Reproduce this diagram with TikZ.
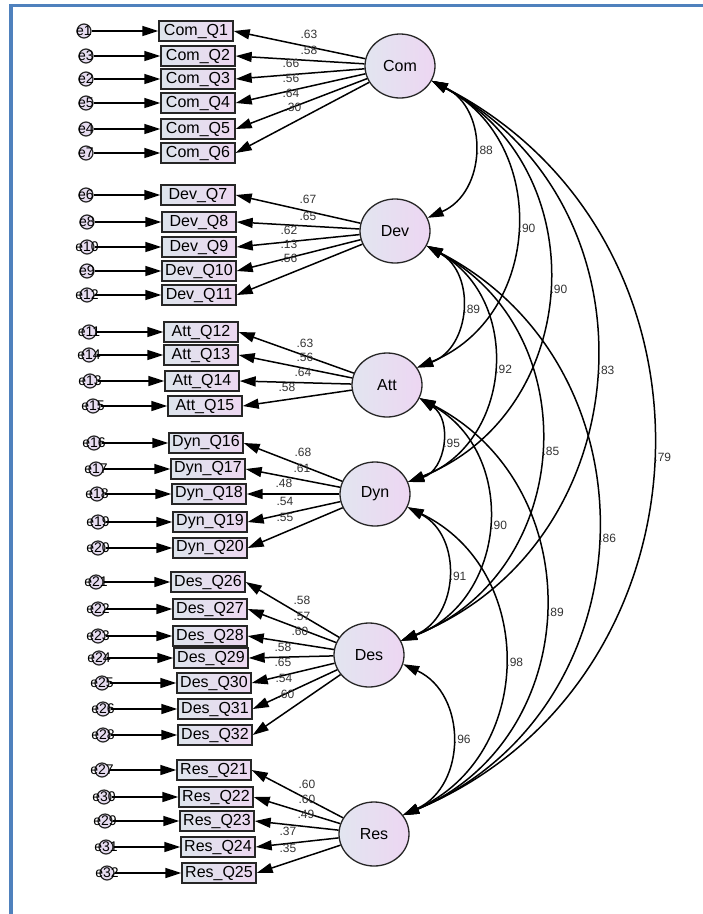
\documentclass[tikz,border=0pt]{standalone}
\usepackage{fontspec}
\setmainfont{Liberation Sans}
\usetikzlibrary{arrows.meta,shapes.geometric}
\definecolor{framebar}{HTML}{4F81BD}
\definecolor{obsleft}{HTML}{DDE4EC}
\definecolor{obsright}{HTML}{EDD8F1}
\definecolor{latleft}{HTML}{E2E5F0}
\definecolor{latright}{HTML}{EDD6F2}
\definecolor{errfill}{HTML}{E6DCF0}
\definecolor{labelgray}{HTML}{333333}
\tikzset{
  obsbox/.style={draw=black!85,line width=1.4pt,left color=obsleft,right color=obsright,minimum width=74pt,minimum height=20pt,inner sep=1pt,font=\fontsize{16}{16}\selectfont},
  latent/.style={ellipse,draw=black!85,line width=1.3pt,left color=latleft,right color=latright,minimum width=70pt,minimum height=64pt,inner sep=0pt,font=\fontsize{16}{16}\selectfont},
  errcircle/.style={circle,draw=black!85,line width=1.2pt,fill=errfill,minimum size=14pt,inner sep=0pt,font=\fontsize{14}{14}\selectfont},
  loadlabel/.style={inner sep=0pt,text=labelgray,font=\fontsize{12}{12}\selectfont},
  corrlabel/.style={loadlabel,midway,right=2pt},
  flow/.style={-{Triangle[length=16pt,width=10pt]},line width=1.5pt},
  corr/.style={{Triangle[length=16pt,width=10pt]}-{Triangle[length=16pt,width=10pt]},line width=1.5pt,bend left=65,looseness=1.2}
}
\begin{document}
\begin{tikzpicture}[x=1pt,y=-1pt]
  \useasboundingbox (0,0) rectangle (703,914);
  \draw[framebar,line width=3.5pt] (11,914) -- (11,5.5) -- (703,5.5);

  % latent factors
  \node[latent] (com) at (400,66) {Com};
  \node[latent] (dev) at (395,231) {Dev};
  \node[latent] (att) at (387,385) {Att};
  \node[latent] (dyn) at (375,494) {Dyn};
  \node[latent] (des) at (369,655) {Des};
  \node[latent] (res) at (374,834) {Res};

  % indicators: name/error/box left/y/label x/label y/loading
  \foreach \q/\e/\bx/\y/\lx/\ly/\val in {Q1/e1/159/31/309/34/.63, Q2/e3/161/56/309/50/.58, Q3/e2/161/79/291/63/.66,
      Q4/e5/161/103/291/78/.56, Q5/e4/161/129/291/93/.64, Q6/e7/161/153/293/107/.30}{
    \node[obsbox] (\q) at (\bx+37,\y) {Com\_\q};
    \node[errcircle] (\e) at (\bx-75,\y) {\makebox[0pt]{\e}};
    \node[loadlabel] (l\q) at (\lx,\ly) {\val};
    \draw[flow] (\e) -- (\q);
    \draw[flow] (com) -- (\q.east);
  }
  \foreach \q/\e/\bx/\y/\lx/\ly/\val in {Q7/e6/161/195/308/199/.67, Q8/e8/162/222/308/216/.65, Q9/e10/162/247/289/230/.62,
      Q10/e9/162/271/289/244/.13, Q11/e12/162/295/289/258/.56}{
    \node[obsbox] (\q) at (\bx+37,\y) {Dev\_\q};
    \node[errcircle] (\e) at (\bx-75,\y) {\makebox[0pt]{\e}};
    \node[loadlabel] (l\q) at (\lx,\ly) {\val};
    \draw[flow] (\e) -- (\q);
    \draw[flow] (dev) -- (\q.east);
  }
  \foreach \q/\e/\bx/\y/\lx/\ly/\val in {Q12/e11/164/332/305/343/.63, Q13/e14/164/355/305/357/.56,
      Q14/e13/165/381/303/372/.64, Q15/e15/168/406/287/387/.58}{
    \node[obsbox] (\q) at (\bx+37,\y) {Att\_\q};
    \node[errcircle] (\e) at (\bx-75,\y) {\makebox[0pt]{\e}};
    \node[loadlabel] (l\q) at (\lx,\ly) {\val};
    \draw[flow] (\e) -- (\q);
    \draw[flow] (att) -- (\q.east);
  }
  \foreach \q/\e/\bx/\y/\lx/\ly/\val in {Q16/e16/169/443/303/452/.68, Q17/e17/171/469/302/468/.61, Q18/e18/172/494/284/483/.48,
      Q19/e19/173/522/285/501/.54, Q20/e20/173/548/285/517/.55}{
    \node[obsbox] (\q) at (\bx+37,\y) {Dyn\_\q};
    \node[errcircle] (\e) at (\bx-75,\y) {\makebox[0pt]{\e}};
    \node[loadlabel] (l\q) at (\lx,\ly) {\val};
    \draw[flow] (\e) -- (\q);
    \draw[flow] (dyn) -- (\q.east);
  }
  \foreach \q/\e/\bx/\y/\lx/\ly/\val in {Q26/e21/171/582/302/600/.58, Q27/e22/173/609/302/616/.57, Q28/e23/173/636/300/631/.60,
      Q29/e24/174/658/283/647/.58, Q30/e25/177/683/283/662/.65, Q31/e26/178/709/284/678/.54, Q32/e28/178/735/286/694/.60}{
    \node[obsbox] (\q) at (\bx+37,\y) {Des\_\q};
    \node[errcircle] (\e) at (\bx-75,\y) {\makebox[0pt]{\e}};
    \node[loadlabel] (l\q) at (\lx,\ly) {\val};
    \draw[flow] (\e) -- (\q);
    \draw[flow] (des) -- (\q.east);
  }
  \foreach \q/\e/\bx/\y/\lx/\ly/\val in {Q21/e27/177/770/307/784/.60, Q22/e30/179/797/307/799/.60, Q23/e29/180/821/306/814/.49,
      Q24/e31/181/847/288/831/.37, Q25/e32/182/873/288/848/.35}{
    \node[obsbox] (\q) at (\bx+37,\y) {Res\_\q};
    \node[errcircle] (\e) at (\bx-75,\y) {\makebox[0pt]{\e}};
    \node[loadlabel] (l\q) at (\lx,\ly) {\val};
    \draw[flow] (\e) -- (\q);
    \draw[flow] (res) -- (\q.east);
  }

  % correlations
  \draw[corr] (com.-25) to node[corrlabel] (rcomdev) {.88} (dev.22);
  \draw[corr] (com.-25) to node[corrlabel] (rcomatt) {.90} (att.30);
  \draw[corr] (com.-25) to node[corrlabel] (rcomdyn) {.90} (dyn.20);
  \draw[corr] (com.-25) to node[corrlabel] (rcomdes) {.83} (des.24);
  \draw[corr] (com.-25) to node[corrlabel] (rcomres) {.79} (res.33);
  \draw[corr] (dev.-25) to node[corrlabel] (rdevatt) {.89} (att.30);
  \draw[corr] (dev.-25) to node[corrlabel] (rdevdyn) {.92} (dyn.20);
  \draw[corr] (dev.-25) to node[corrlabel] (rdevdes) {.85} (des.24);
  \draw[corr] (dev.-25) to node[corrlabel] (rdevres) {.86} (res.33);
  \draw[corr] (att.-22) to node[corrlabel] (rattdyn) {.95} (dyn.20);
  \draw[corr] (att.-22) to node[corrlabel] (rattdes) {.90} (des.24);
  \draw[corr] (att.-22) to node[corrlabel] (rattres) {.89} (res.33);
  \draw[corr] (dyn.-22) to node[corrlabel] (rdyndes) {.91} (des.24);
  \draw[corr] (dyn.-22) to node[corrlabel] (rdynres) {.98} (res.33);
  \draw[corr] (des.-15) to node[corrlabel] (rdesres) {.96} (res.33);
\end{tikzpicture}
\end{document}
